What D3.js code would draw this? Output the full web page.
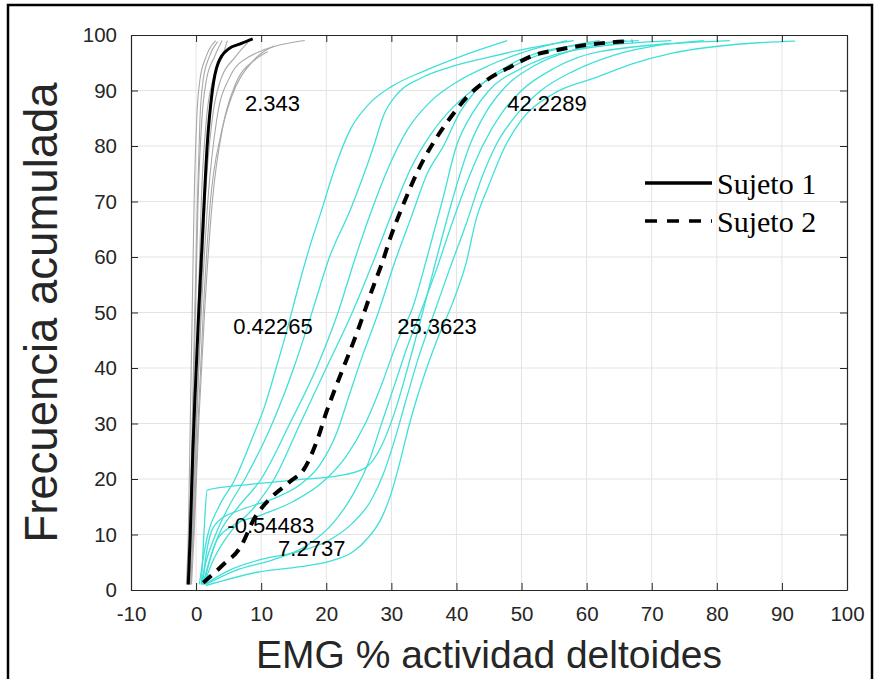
<!DOCTYPE html>
<html lang="es">
<head>
<meta charset="UTF-8">
<title>Frecuencia acumulada</title>
<style>
  body { margin: 0; background: #fff; }
  svg { display: block; }
</style>
</head>
<body>
<script src="https://d3js.org/d3.v7.min.js"></script>
<script>
// ---- data ----
const xTicks = [-10, 0, 10, 20, 30, 40, 50, 60, 70, 80, 90, 100];
const yTicks = [0, 10, 20, 30, 40, 50, 60, 70, 80, 90, 100];

// Sujeto 1: individual trials [EMG %, cumulative %]
const grayTrials = [
  [[-1.5, 1], [-1.2, 10], [-0.9, 30], [-0.6, 50], [-0.3, 70], [0.1, 85], [0.6, 92], [1.5, 96], [3, 99]],
  [[-1.2, 1], [-0.9, 10], [-0.5, 30], [-0.1, 50], [0.3, 70], [0.9, 85], [1.6, 92], [2.8, 96], [4, 99]],
  [[-1.0, 1], [-0.7, 10], [-0.2, 30], [0.3, 50], [0.8, 70], [1.6, 85], [2.6, 92], [4, 96], [4.8, 99]],
  [[-0.8, 1], [-0.5, 10], [0.1, 30], [0.7, 50], [1.4, 70], [2.5, 85], [3.8, 92], [6, 96], [8, 98.7]],
  [[-1.1, 1], [-0.6, 10], [0, 30], [0.8, 50], [1.8, 70], [3.2, 85], [5, 92], [8, 96], [16.7, 99]],
  [[-0.9, 1], [-0.4, 10], [0.3, 30], [1.1, 50], [2.2, 70], [3.8, 82], [5.5, 89], [8.5, 95], [12, 98]],
  [[-1.3, 1], [-1.0, 10], [-0.6, 30], [-0.2, 50], [0.2, 70], [0.6, 85], [1.1, 92], [2, 96], [3.3, 98.8]],
  [[-0.7, 1], [-0.3, 10], [0.4, 30], [1.3, 50], [2.5, 70], [4.2, 84], [6, 91], [9, 95.5], [11, 97]]
];
const mean1 = [[-1.2, 1], [-0.9, 10], [-0.5, 25], [-0.2, 34], [0.4, 50], [1.1, 66.7], [1.7, 80],
  [2.5, 90], [3.4, 95], [5, 97.5], [6.8, 98.4], [8.7, 99.3]];

// Sujeto 2: individual trials
const cyanTrials = [
  [[0.5, 1], [1.0, 5], [1.8, 10], [3.5, 15], [6, 20], [8.5, 27], [10.5, 33], [12.3, 40], [14, 47], [15.8, 55], [17.5, 62], [19.3, 68.5], [21.3, 76], [23.7, 83], [26.5, 87.5], [30, 90.7], [35, 93.5], [41, 96.3], [47.8, 99]],
  [[0.8, 1], [1.5, 5], [3, 10], [5, 15], [7.5, 20], [11.7, 30], [15, 40], [17.8, 50], [20.5, 60], [23.7, 68.5], [25.5, 74], [27.3, 80], [28.8, 85.5], [31, 89.5], [34.5, 92.2], [39, 94.2], [45, 96], [51, 97.6], [58, 99]],
  [[1, 1], [2, 5], [3.5, 10], [6.5, 15], [10, 20], [14.4, 30], [18.5, 40], [21.8, 50], [24.5, 60], [27, 68.5], [29.5, 76], [32.5, 83], [36, 88], [40, 91.5], [45, 94.5], [50, 96.8], [57, 99]],
  [[1.2, 1], [2.5, 5], [5, 10], [9, 15], [12, 20], [16, 30], [20, 40], [24, 50], [27.5, 60], [30.3, 68.5], [33, 76], [36, 82], [39.5, 87], [43, 90.5], [48, 94], [54, 97], [62, 99]],
  [[0.8, 1], [1.2, 10], [1.7, 18], [8, 19], [15, 19.8], [22, 20.6], [26, 22], [28.5, 26], [30.5, 32], [32.5, 40], [34.8, 50], [37, 60], [39.3, 70], [42, 80], [44.5, 86], [47, 90], [52, 94.5], [58, 97.3], [66, 99]],
  [[1, 1], [1.5, 6], [2.2, 10], [3.5, 12.5], [7, 14.5], [12, 16.5], [16, 19], [19, 22.5], [21.5, 28], [23.5, 35], [25.5, 42], [28, 50], [30.5, 59], [33, 67], [35.5, 75], [38, 80], [40.5, 86], [43, 90], [48, 94.5], [55, 97.5], [68, 99]],
  [[1.2, 1], [2, 5], [3.2, 9], [5.5, 11.5], [10, 13.5], [15, 16], [19.5, 19.5], [23, 24], [26, 30], [28.5, 37], [31, 45], [33.3, 51], [35.5, 60], [37.8, 70], [40, 80], [42.5, 86], [45, 90], [50, 94], [57, 97], [73, 99]],
  [[1.5, 1], [6, 3.5], [12, 5.5], [17, 8], [21, 12], [24, 17], [26.5, 23], [28.5, 30], [30.5, 37], [32.5, 44], [34.8, 51], [37, 58], [39.3, 66], [41.8, 74], [44, 80], [47, 86], [50, 90], [55, 94], [62, 97], [82, 99]],
  [[1.5, 0.8], [9.4, 3.2], [16, 4.2], [20.6, 5.2], [24, 6.8], [26.5, 9.5], [28.5, 13], [30, 17.5], [31.3, 23], [32.8, 30], [34.8, 37.8], [37, 45], [39.5, 52], [41.5, 59], [43, 66.7], [45, 73], [47.5, 80], [50, 84.7], [55, 89.5], [61.6, 92.4], [67, 94.8], [73, 96.7], [82, 98.2], [92, 98.9]],
  [[1.3, 1], [5, 3.5], [10, 5.5], [16, 7], [20.5, 9], [24, 12], [26.8, 16], [28.8, 21], [30.5, 27], [32.2, 34], [34.2, 42], [36.6, 50], [39, 58], [41.5, 66], [43.8, 74], [46, 80], [49.5, 86], [53, 90], [58, 93.5], [64, 96.3], [72, 98.3], [78, 99]]
];
const mean2 = [[1.1, 1.3], [4.1, 4.5], [6.8, 7.7], [9, 13], [11.4, 16.5], [14.4, 19.5], [16.7, 22],
  [18.6, 27], [20, 32], [21.7, 37.3], [24.7, 46.3], [27.2, 54.6], [28.6, 59], [30, 64], [31.6, 68.8],
  [34.7, 77], [37, 81.6], [39, 85], [41.6, 88.8], [44.7, 91.9], [48.2, 94.2], [52, 96.4], [55.5, 97.3],
  [60, 98.2], [64, 98.7], [67, 98.9]];

// text annotations: [label, x, y]
const notes = [
  ["2.343", 7.5, 87.7],
  ["42.2289", 47.8, 87.7],
  ["0.42265", 5.7, 47.6],
  ["25.3623", 30.9, 47.6],
  ["-0.54483", 4.8, 11.7],
  ["7.2737", 12.6, 7.6]
];
const legendNames = ["Sujeto 1", "Sujeto 2"];

// ---- layout ----
const width = 878, height = 679;
const margin = {top: 35, right: 31, bottom: 89, left: 131};
const cyan = "#3fe0d8";

const svg = d3.select("body").append("svg")
  .attr("width", width)
  .attr("height", height);

svg.append("rect")
  .attr("x", 8).attr("y", 5)
  .attr("width", 864).attr("height", 700)
  .attr("fill", "none")
  .attr("stroke", "black")
  .attr("stroke-width", 2.5);

const x = d3.scaleLinear().domain([-10, 100]).range([margin.left, width - margin.right]);
const y = d3.scaleLinear().domain([0, 100]).range([height - margin.bottom, margin.top]);

// grid
svg.append("g").selectAll("line").data(xTicks.slice(1, -1)).enter().append("line")
  .attr("x1", d => x(d)).attr("x2", d => x(d))
  .attr("y1", y(0)).attr("y2", y(100))
  .attr("stroke", "#e3e3e3").attr("stroke-width", 1);
svg.append("g").selectAll("line").data(yTicks.slice(1, -1)).enter().append("line")
  .attr("x1", x(-10)).attr("x2", x(100))
  .attr("y1", d => y(d)).attr("y2", d => y(d))
  .attr("stroke", "#e3e3e3").attr("stroke-width", 1);

const line = d3.line()
  .x(d => x(d[0]))
  .y(d => y(d[1]))
  .curve(d3.curveMonotoneX);

const plot = svg.append("g");

plot.selectAll(".gray").data(grayTrials).enter().append("path")
  .attr("d", line)
  .attr("fill", "none")
  .attr("stroke", "#a8a8a8")
  .attr("stroke-width", 1.1);

plot.selectAll(".cyan").data(cyanTrials).enter().append("path")
  .attr("d", line)
  .attr("fill", "none")
  .attr("stroke", cyan)
  .attr("stroke-width", 1.3);

plot.append("path")
  .attr("d", line(mean1))
  .attr("fill", "none")
  .attr("stroke", "black")
  .attr("stroke-width", 3);

plot.append("path")
  .attr("d", line(mean2))
  .attr("fill", "none")
  .attr("stroke", "black")
  .attr("stroke-width", 4)
  .attr("stroke-dasharray", "11,8");

// axes (box with inward ticks)
const axisColor = "#262626";
const tickFont = "'Liberation Sans', Arial, sans-serif";
const plain = d => String(d);   // keep the ascii hyphen in "-10"

const xb = d3.axisBottom(x).tickValues(xTicks).tickFormat(plain).tickSizeInner(-7).tickSizeOuter(0).tickPadding(16);
const xt = d3.axisTop(x).tickValues(xTicks).tickSizeInner(-7).tickSizeOuter(0).tickFormat("");
const yl = d3.axisLeft(y).tickValues(yTicks).tickFormat(plain).tickSizeInner(-7).tickSizeOuter(0).tickPadding(14);
const yr = d3.axisRight(y).tickValues(yTicks).tickSizeInner(-7).tickSizeOuter(0).tickFormat("");

svg.append("g").attr("transform", `translate(0,${y(0)})`).call(xb);
svg.append("g").attr("transform", `translate(0,${y(100)})`).call(xt);
svg.append("g").attr("transform", `translate(${x(-10)},0)`).call(yl);
svg.append("g").attr("transform", `translate(${x(100)},0)`).call(yr);

svg.selectAll(".domain").attr("stroke", axisColor).attr("stroke-width", 1.2);
svg.selectAll(".tick line").attr("stroke", axisColor);
svg.selectAll(".tick text")
  .attr("font-family", tickFont)
  .attr("font-size", 20.5)
  .attr("fill", "#262626");

// annotations
svg.append("g").selectAll("text").data(notes).enter().append("text")
  .attr("x", d => x(d[1]))
  .attr("y", d => y(d[2]))
  .attr("dy", "0.35em")
  .attr("font-family", tickFont)
  .attr("font-size", 22)
  .attr("fill", "black")
  .text(d => d[0]);

// axis labels
svg.append("text")
  .attr("x", (x(-10) + x(100)) / 2)
  .attr("y", 668)
  .attr("text-anchor", "middle")
  .attr("font-family", tickFont)
  .attr("font-size", 39)
  .attr("fill", "#262626")
  .text("EMG % actividad deltoides");

svg.append("text")
  .attr("transform", `translate(57,${(y(0) + y(100)) / 2}) rotate(-90)`)
  .attr("text-anchor", "middle")
  .attr("font-family", tickFont)
  .attr("font-size", 45.5)
  .attr("fill", "#262626")
  .text("Frecuencia acumulada");

// legend
const legend = svg.append("g");
legendNames.forEach((name, i) => {
  const ly = 183 + i * 38;
  legend.append("line")
    .attr("x1", 645).attr("x2", 712)
    .attr("y1", ly).attr("y2", ly)
    .attr("stroke", "black")
    .attr("stroke-width", 3.5)
    .attr("stroke-dasharray", i === 0 ? null : "12,10");
  legend.append("text")
    .attr("x", 717)
    .attr("y", ly + 11)
    .attr("font-family", "'Liberation Serif', 'Times New Roman', serif")
    .attr("font-size", 30)
    .attr("fill", "black")
    .text(name);
});
</script>
</body>
</html>
